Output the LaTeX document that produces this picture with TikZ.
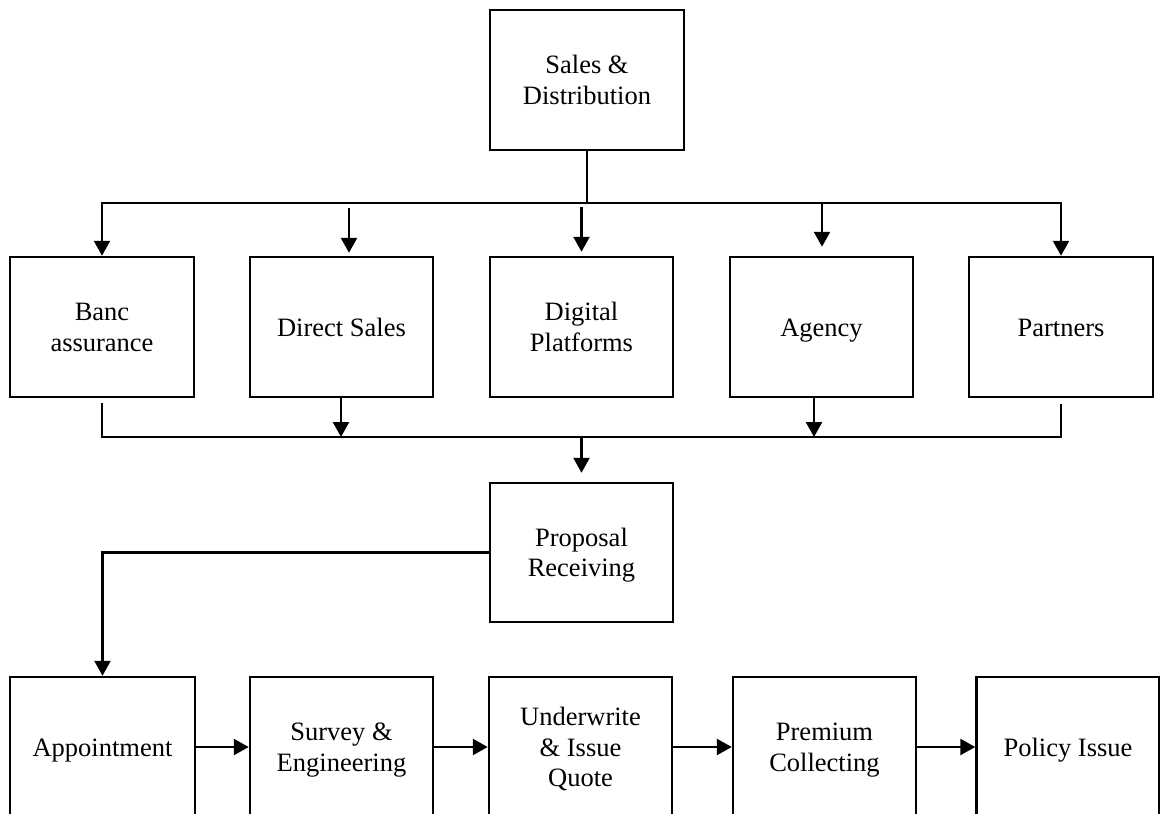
\documentclass[tikz,border=0pt]{standalone}
\usepackage{fontspec}
\setmainfont{Liberation Serif}
\usetikzlibrary{arrows.meta,calc}
% uniform line strut so every label sits on the same baselines
\newcommand{\bstrut}{\rule[-6pt]{0pt}{30pt}}
\begin{document}
\begin{tikzpicture}[x=1pt,y=-1pt,
  box/.style={draw, line width=2.5pt, minimum width=183pt, minimum height=140pt,
    align=center, inner sep=0pt, font=\fontsize{26.5}{30.5}\selectfont},
  link/.style={line width=2.5pt, line cap=rect},
  arr/.style={line width=2.5pt, line cap=rect, -{Triangle[width=16pt,length=15pt]}}]
\useasboundingbox (0,0) rectangle (1160,814);

% head of the chart
\node[box, minimum width=194pt] (sd) at (587,80) {\bstrut Sales \&\\\bstrut Distribution};

% sales channels
\node[box, minimum width=184pt] (banc) at (102,327) {\bstrut Banc\\\bstrut assurance};
\node[box] (direct) at (341.5,327) {\bstrut Direct Sales};
\node[box] (digital) at (581.5,327) {\bstrut Digital\\\bstrut Platforms};
\node[box] (agency) at (821.5,327) {\bstrut Agency};
\node[box, minimum width=184pt] (partners) at (1061,327) {\bstrut Partners};

% proposal intake
\node[box, minimum height=139pt] (proposal) at (581.5,552.5) {\bstrut Proposal\\\bstrut Receiving};

% processing steps
\node[box, minimum width=185pt] (appt) at (102.5,747) {\bstrut Appointment};
\node[box] (survey) at (341.5,747) {\bstrut Survey \&\\\bstrut Engineering};
\node[box] (under) at (580.5,747) {\bstrut Underwrite\\\bstrut\& Issue\\\bstrut Quote};
\node[box] (premium) at (824.5,747) {\bstrut Premium\\\bstrut Collecting};
\node[box] (policy) at (1068,747) {\bstrut Policy Issue};

\coordinate (busT) at (0,203);
\coordinate (busB) at (0,437);

% distribution bus
\draw[link] (sd.south) -- (sd.south |- busT);
\draw[arr] (partners.north |- busT) -- (banc.north |- busT) -- (banc.north);
\draw[arr] (partners.north |- busT) -- (partners.north);
\draw[arr] ([xshift=7.5pt,yshift=47pt]direct.north) -- ([xshift=7.5pt,yshift=3pt]direct.north);
\draw[arr] ([yshift=48pt]digital.north) -- ([yshift=4pt]digital.north);
\draw[arr] ([xshift=0.5pt]agency.north |- busT) -- ([xshift=0.5pt,yshift=9pt]agency.north);

% collecting bus
\draw[link] ([yshift=-6pt]banc.south) -- (banc.south |- busB) -- (partners.south |- busB) -- ([yshift=-7pt]partners.south);
\draw[arr] ([xshift=-0.5pt]direct.south) -- ([xshift=-0.5pt]direct.south |- busB);
\draw[arr] ([xshift=-7.5pt]agency.south) -- ([xshift=-7.5pt]agency.south |- busB);
\draw[arr] (proposal.north |- busB) -- ([yshift=9pt]proposal.north);

% proposal to process chain
\draw[arr] (proposal.west) -- (proposal.west -| appt.north) -- (appt.north);
\draw[arr] (appt.east) -- (survey.west);
\draw[arr] (survey.east) -- (under.west);
\draw[arr] (under.east) -- (premium.west);
\draw[arr] (premium.east) -- (policy.west);
\end{tikzpicture}
\end{document}
